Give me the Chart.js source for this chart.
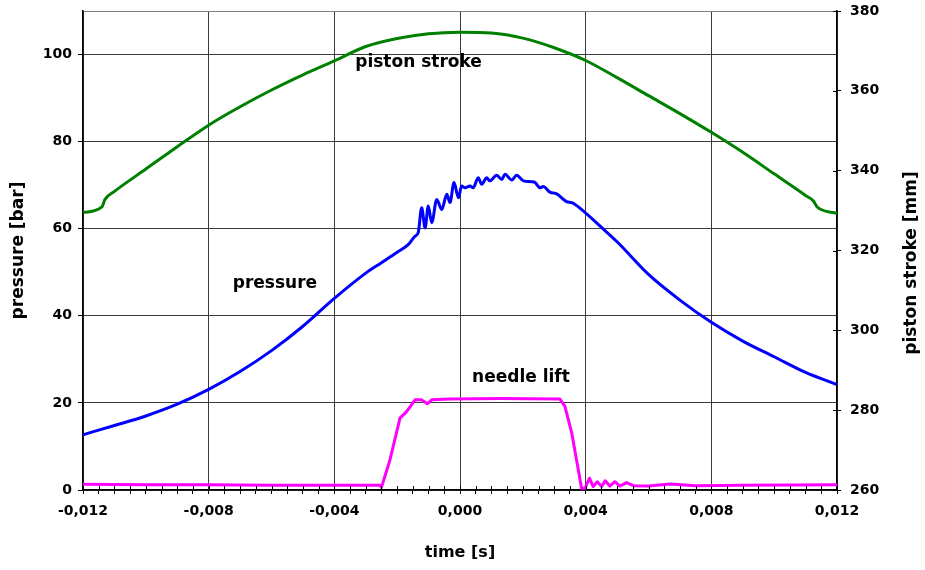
<!DOCTYPE html>
<html>
<head>
<meta charset="utf-8">
<script src="https://cdn.jsdelivr.net/npm/chart.js@4.4.1/dist/chart.umd.min.js"></script>
<style>
  html, body { margin: 0; padding: 0; background: #fff; }
</style>
</head>
<body>
<canvas id="engineCanvas" width="925" height="570"></canvas>
<script>
/* Values */
var pistonTime = [-0.012, -0.0114, -0.0113, -0.011, -0.010, -0.009, -0.008, -0.007, -0.006, -0.005, -0.004,
    -0.003, -0.002, -0.001, 0, 0.001, 0.002, 0.003, 0.004, 0.005, 0.006, 0.007, 0.008, 0.009, 0.010,
    0.011, 0.01125, 0.01137, 0.012];
var pistonStroke = [329.5, 330.9, 332.8, 334.8, 340.4, 346.0, 351.4, 356.0, 360.2, 364.0, 367.5,
    371.1, 373.1, 374.3, 374.7, 374.5, 373.2, 370.8, 367.6, 363.3, 358.8, 354.3, 349.6, 344.6, 339.2,
    333.8, 332.4, 330.9, 329.3];

var pressureTime = [-0.012, -0.011, -0.010, -0.009, -0.008, -0.007, -0.006, -0.005, -0.004, -0.003,
    -0.0025, -0.002, -0.00164, -0.00143, -0.00133, -0.00122, -0.00111, -0.00101, -0.0009, -0.00074,
    -0.00058, -0.00042, -0.00032, -0.00019, -0.00005, 0.00005, 0.00016, 0.00032, 0.00042, 0.00058,
    0.00069, 0.00085, 0.00095, 0.00117, 0.00133, 0.00143, 0.00165, 0.0018, 0.00202, 0.00228,
    0.00239, 0.00255, 0.00265, 0.00286, 0.00308, 0.0034, 0.00356, 0.00392, 0.00446, 0.005,
    0.006, 0.007, 0.008, 0.009, 0.010, 0.011, 0.012];
var pressureBar = [12.7, 14.8, 17.0, 19.7, 23.1, 27.2, 32.0, 37.6, 44.0, 49.8,
    52.2, 54.6, 56.4, 58.3, 59.1, 64.8, 60.2, 65.2, 61.4, 66.7,
    64.4, 67.9, 66.0, 70.6, 67.1, 69.8, 69.4, 69.8, 69.4, 71.7,
    70.2, 71.7, 71.0, 72.3, 71.3, 72.5, 71.2, 72.3, 71.0, 70.8,
    70.6, 69.4, 69.7, 68.4, 68.0, 66.2, 66.0, 64.1, 60.6, 57.0,
    49.5, 43.6, 38.5, 34.2, 30.6, 27.0, 24.2];

var needleTime = [-0.012, -0.010, -0.008, -0.006, -0.004, -0.00255, -0.0025, -0.00223, -0.00191, -0.0017,
    -0.00143, -0.00122, -0.00104, -0.0009, -0.00032, 0.00127, 0.00318, 0.00334, 0.00356, 0.00371,
    0.00387, 0.00398, 0.00412, 0.00424, 0.00437, 0.00451, 0.00462, 0.00477, 0.00493, 0.00509,
    0.0053, 0.00552, 0.006, 0.0067, 0.0075, 0.009, 0.012];
var needleLift = [1.3, 1.2, 1.2, 1.1, 1.1, 1.1, 0.6, 6.9, 16.5, 18.0,
    20.7, 20.7, 19.8, 20.7, 20.9, 21.0, 20.9, 19.2, 13.0, 6.9,
    0.4, 0.4, 2.7, 0.8, 1.9, 0.8, 2.1, 0.9, 1.9, 0.9,
    1.7, 1.0, 0.9, 1.4, 1.0, 1.1, 1.2];

/* in-plot labels, placed in data units (time, pressure) */
var labelText = ['piston stroke', 'pressure', 'needle lift'];
var labelTime = [-0.00132, -0.00589, 0.00194];
var labelValue = [98.1, 47.3, 25.9];

var FONT = '"DejaVu Sans"';

function toPoints(xs, ys) {
    var pts = [];
    for (var i = 0; i < xs.length; i++)
        pts.push({x: xs[i], y: ys[i]});
    return pts;
}

function isMajor(v) {
    var q = v / 0.004;
    return Math.abs(q - Math.round(q)) < 1e-6;
}

function timeLabel(v) {
    var r = Math.round(v * 1000) / 1000;
    if (Math.abs(r) < 1e-9) r = 0;
    return r.toFixed(3).replace('.', ',');
}

/* keep the plot box where the reference has it */
function fixVertical(width) {
    return function (scale) {
        scale.width = width;
        scale.paddingTop = 0;
        scale.paddingBottom = 0;
    };
}

/* Labels inside the plot, inner tick halves and the right-hand axis title */
var textPlugin = {
    id: 'textPlugin',
    afterDatasetsDraw(chart) {
        var ctx = chart.ctx;
        var xs = chart.scales.x, ys = chart.scales.y, ys1 = chart.scales.y1;
        var area = chart.chartArea;
        ctx.save();

        ctx.strokeStyle = '#000';
        ctx.lineWidth = 1;
        ctx.beginPath();
        xs.ticks.forEach(function (t) {
            var px = Math.round(xs.getPixelForValue(t.value)) + 0.5;
            ctx.moveTo(px, area.bottom - 4);
            ctx.lineTo(px, area.bottom);
        });
        ys1.ticks.forEach(function (t) {
            var py = Math.round(ys1.getPixelForValue(t.value)) + 0.5;
            ctx.moveTo(area.right - 4, py);
            ctx.lineTo(area.right, py);
        });
        ctx.stroke();

        ctx.fillStyle = '#000';
        ctx.textAlign = 'center';
        ctx.textBaseline = 'middle';
        ctx.font = 'bold 17px ' + FONT;
        for (var i = 0; i < labelText.length; i++)
            ctx.fillText(labelText[i], xs.getPixelForValue(labelTime[i]), ys.getPixelForValue(labelValue[i]));

        ctx.translate(912, 263);
        ctx.rotate(-Math.PI / 2);
        ctx.fillText('piston stroke [mm]', 0, 0);
        ctx.restore();
    }
};

function drawChart() {
    var ctx = document.getElementById('engineCanvas').getContext('2d');
    var tickFont = {family: FONT, size: 14, weight: 'bold'};

    new Chart(ctx, {
        type: 'line',
        data: {
            datasets: [{
                label: 'needle lift',
                data: toPoints(needleTime, needleLift),
                borderColor: '#ff00ff',
                borderWidth: 3,
                yAxisID: 'y'
            }, {
                label: 'pressure',
                data: toPoints(pressureTime, pressureBar),
                borderColor: '#0000ff',
                borderWidth: 3,
                cubicInterpolationMode: 'monotone',
                yAxisID: 'y'
            }, {
                label: 'piston stroke',
                data: toPoints(pistonTime, pistonStroke),
                borderColor: '#008000',
                borderWidth: 3,
                cubicInterpolationMode: 'monotone',
                yAxisID: 'y1'
            }]
        },
        options: {
            responsive: false,
            animation: false,
            layout: {padding: {top: 11, left: 0, right: 0, bottom: 0}},
            elements: {
                point: {radius: 0},
                line: {tension: 0, fill: false, borderJoinStyle: 'round'}
            },
            plugins: {
                legend: {display: false},
                tooltip: {enabled: false}
            },
            scales: {
                x: {
                    type: 'linear',
                    min: -0.012,
                    max: 0.012,
                    afterFit: function (scale) {
                        scale.height = 80;
                        scale.paddingLeft = 0;
                        scale.paddingRight = 0;
                    },
                    ticks: {
                        stepSize: 0.0005,
                        autoSkip: false,
                        maxRotation: 0,
                        padding: 9,
                        color: '#000',
                        font: tickFont,
                        callback: function (v) { return isMajor(v) ? timeLabel(v) : ''; }
                    },
                    grid: {
                        color: function (c) { return isMajor(c.tick.value) ? '#3a3a3a' : 'rgba(0,0,0,0)'; },
                        tickColor: '#000',
                        tickLength: 4,
                        lineWidth: 1
                    },
                    border: {display: true, color: '#000', width: 1.5},
                    title: {
                        display: true,
                        text: 'time [s]',
                        color: '#000',
                        font: {family: FONT, size: 16, weight: 'bold'},
                        padding: {top: 0, bottom: 8}
                    }
                },
                y: {
                    type: 'linear',
                    position: 'left',
                    min: 0,
                    max: 110,
                    afterFit: fixVertical(83),
                    ticks: {
                        stepSize: 20,
                        padding: 6,
                        color: '#000',
                        font: tickFont,
                        callback: function (v) { return v % 20 === 0 ? v : ''; }
                    },
                    grid: {
                        color: function (c) { return c.tick.value === 110 ? '#808080' : '#3a3a3a'; },
                        tickColor: function (c) { return c.tick.value === 110 ? 'rgba(0,0,0,0)' : '#000'; },
                        tickLength: 5,
                        lineWidth: 1
                    },
                    border: {display: true, color: '#000', width: 1.5},
                    title: {
                        display: true,
                        text: 'pressure [bar]',
                        color: '#000',
                        font: {family: FONT, size: 17, weight: 'bold'},
                        padding: {top: 8, bottom: 0}
                    }
                },
                y1: {
                    type: 'linear',
                    position: 'right',
                    min: 260,
                    max: 380,
                    afterFit: fixVertical(88),
                    ticks: {
                        stepSize: 20,
                        padding: 9,
                        color: '#000',
                        font: tickFont
                    },
                    grid: {
                        drawOnChartArea: false,
                        tickColor: '#000',
                        tickLength: 4
                    },
                    border: {display: true, color: '#000', width: 1.5}
                }
            }
        },
        plugins: [textPlugin]
    });
}

drawChart();
</script>
</body>
</html>
